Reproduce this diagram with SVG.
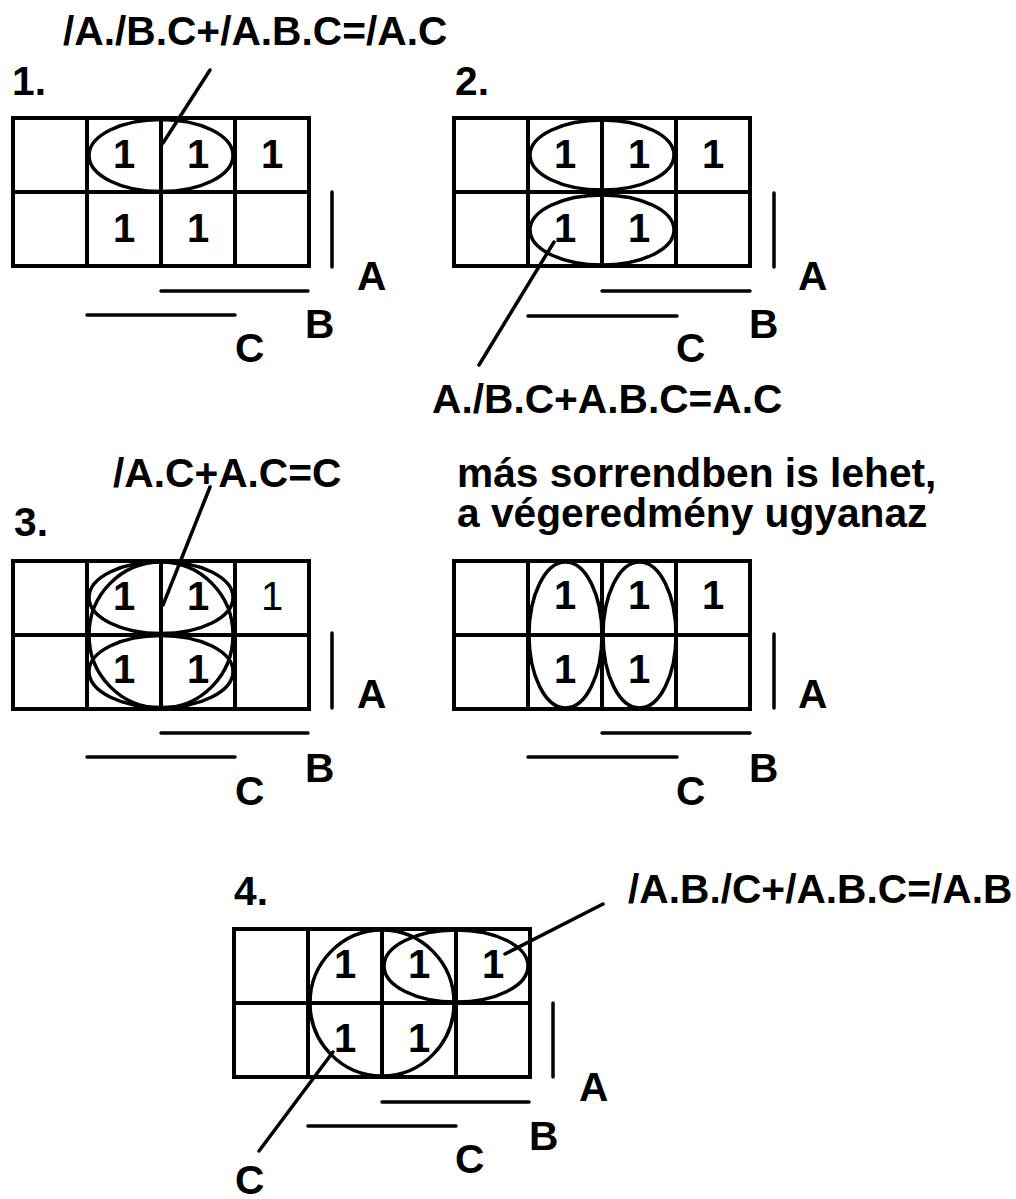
<svg xmlns="http://www.w3.org/2000/svg" xmlns:xlink="http://www.w3.org/1999/xlink" width="1016" height="1199" viewBox="0 0 1016 1199">
  <style>
    text { font-family: "Liberation Sans", Arial, sans-serif; font-weight: bold; font-size: 40.7px; fill: #000; }
    .one { text-anchor: middle; font-size: 40px; }
    .thin { font-weight: normal; }
    .grid { fill: none; stroke: #000; stroke-width: 4; }
    .loop { fill: none; stroke: #000; stroke-width: 3.5; }
    .bar { stroke: #000; stroke-width: 3.5; stroke-linecap: round; }
    .lead { stroke: #000; stroke-width: 3.5; stroke-linecap: round; }
  </style>
  <defs>
    <!-- 2 x 4 Karnaugh grid, cells 74 x 74 -->
    <g id="kgrid">
      <rect class="grid" x="0" y="0" width="296" height="148"/>
      <line class="grid" x1="74" y1="0" x2="74" y2="148"/>
      <line class="grid" x1="148" y1="0" x2="148" y2="148"/>
      <line class="grid" x1="222" y1="0" x2="222" y2="148"/>
      <line class="grid" x1="0" y1="74" x2="296" y2="74"/>
    </g>
  </defs>
  <rect width="1016" height="1199" fill="#fff"/>

  <!-- map 1 -->
  <g id="map1">
    <text x="12" y="95">1.</text>
    <use xlink:href="#kgrid" x="13" y="118"/>
    <ellipse class="loop" cx="161" cy="155.5" rx="72" ry="36"/>
    <text class="one" x="124" y="168">1</text>
    <text class="one" x="198" y="168">1</text>
    <text class="one" x="272" y="168">1</text>
    <text class="one" x="124" y="242">1</text>
    <text class="one" x="198" y="242">1</text>
    <line class="bar" x1="332" y1="192" x2="332" y2="267"/>
    <line class="bar" x1="161" y1="291" x2="308" y2="291"/>
    <line class="bar" x1="87" y1="315" x2="235" y2="315"/>
    <text x="357" y="290">A</text>
    <text x="305" y="338">B</text>
    <text x="235" y="362">C</text>
    <text x="63" y="45">/A./B.C+/A.B.C=/A.C</text>
  </g>

  <!-- map 2 -->
  <g id="map2">
    <text x="455" y="95">2.</text>
    <use xlink:href="#kgrid" x="454" y="118"/>
    <ellipse class="loop" cx="602" cy="155" rx="72" ry="35"/>
    <ellipse class="loop" cx="602" cy="230" rx="72" ry="35"/>
    <text class="one" x="565" y="168">1</text>
    <text class="one" x="639" y="168">1</text>
    <text class="one" x="713" y="168">1</text>
    <text class="one" x="565" y="242">1</text>
    <text class="one" x="639" y="242">1</text>
    <line class="bar" x1="774" y1="193" x2="774" y2="267"/>
    <line class="bar" x1="602" y1="291" x2="750" y2="291"/>
    <line class="bar" x1="528" y1="316" x2="677" y2="316"/>
    <text x="798" y="290">A</text>
    <text x="749" y="338">B</text>
    <text x="676" y="362">C</text>
    <text x="432" y="413">A./B.C+A.B.C=A.C</text>
  </g>

  <!-- map 3 -->
  <g id="map3">
    <text x="14" y="536">3.</text>
    <use xlink:href="#kgrid" x="13" y="561"/>
    <ellipse class="loop" cx="161" cy="597.5" rx="72" ry="36"/>
    <ellipse class="loop" cx="161" cy="671.5" rx="72" ry="36"/>
    <ellipse class="loop" cx="161" cy="635" rx="72" ry="73"/>
    <text class="one" x="124" y="610">1</text>
    <text class="one" x="198" y="610">1</text>
    <text class="one thin" x="272" y="610">1</text>
    <text class="one" x="124" y="683">1</text>
    <text class="one" x="198" y="683">1</text>
    <line class="bar" x1="332" y1="633" x2="332" y2="708"/>
    <line class="bar" x1="161" y1="733" x2="308" y2="733"/>
    <line class="bar" x1="87" y1="757" x2="235" y2="757"/>
    <text x="357" y="708">A</text>
    <text x="305" y="782">B</text>
    <text x="235" y="805">C</text>
    <text x="113" y="487">/A.C+A.C=C</text>
  </g>

  <!-- map 3, alternative grouping -->
  <g id="map3b">
    <text x="457" y="487">más sorrendben is lehet,<tspan x="457" y="527">a végeredmény ugyanaz</tspan></text>
    <use xlink:href="#kgrid" x="454" y="561"/>
    <ellipse class="loop" cx="565.5" cy="635" rx="36.5" ry="73"/>
    <ellipse class="loop" cx="639.5" cy="635" rx="36.5" ry="73"/>
    <text class="one" x="565" y="609">1</text>
    <text class="one" x="639" y="609">1</text>
    <text class="one" x="713" y="609">1</text>
    <text class="one" x="565" y="683">1</text>
    <text class="one" x="639" y="683">1</text>
    <line class="bar" x1="774" y1="634" x2="774" y2="708"/>
    <line class="bar" x1="602" y1="733" x2="750" y2="733"/>
    <line class="bar" x1="528" y1="757" x2="677" y2="757"/>
    <text x="798" y="708">A</text>
    <text x="749" y="782">B</text>
    <text x="676" y="805">C</text>
  </g>

  <!-- map 4 -->
  <g id="map4">
    <text x="234" y="905">4.</text>
    <use xlink:href="#kgrid" x="234" y="929"/>
    <ellipse class="loop" cx="382" cy="1003" rx="72" ry="73"/>
    <ellipse class="loop" cx="456" cy="966" rx="72" ry="36"/>
    <text class="one" x="345" y="978">1</text>
    <text class="one" x="419" y="978">1</text>
    <text class="one" x="493" y="978">1</text>
    <text class="one" x="345" y="1052">1</text>
    <text class="one" x="419" y="1052">1</text>
    <line class="bar" x1="553" y1="1003" x2="553" y2="1077"/>
    <line class="bar" x1="382" y1="1102" x2="529" y2="1102"/>
    <line class="bar" x1="308" y1="1126" x2="456" y2="1126"/>
    <text x="579" y="1101">A</text>
    <text x="529" y="1150">B</text>
    <text x="455" y="1173">C</text>
    <text x="628" y="903">/A.B./C+/A.B.C=/A.B</text>
    <text x="235" y="1194">C</text>
  </g>

  <!-- leader lines from loops to their terms -->
  <g id="connectors">
    <line class="lead" x1="210" y1="70" x2="163" y2="143"/>
    <line class="lead" x1="554" y1="242" x2="479" y2="365"/>
    <line class="lead" x1="210" y1="487" x2="163" y2="605"/>
    <line class="lead" x1="505" y1="954" x2="603" y2="904"/>
    <line class="lead" x1="333" y1="1052" x2="259" y2="1151"/>
  </g>
</svg>
